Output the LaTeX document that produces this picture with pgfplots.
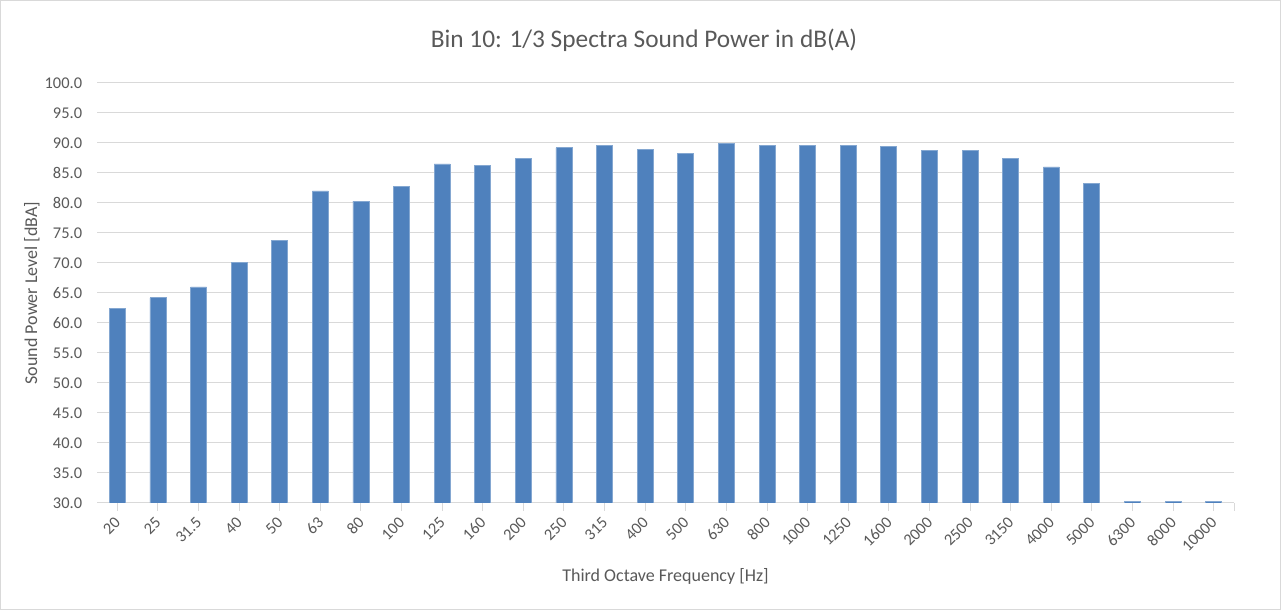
\documentclass[border=0pt]{standalone}
\usepackage{fontspec}
\setmainfont{Carlito}
\usepackage{pgfplots}
\pgfplotsset{compat=1.18}
\definecolor{barblue}{HTML}{4F81BD}
\definecolor{txt}{HTML}{595959}
\definecolor{gridc}{HTML}{D9D9D9}
\begin{document}
\begin{tikzpicture}
\path[use as bounding box] (0pt,0pt) rectangle (960.75pt,457.5pt);
\draw[gridc, line width=0.75pt] (0.6pt,0.6pt) rectangle (960.15pt,456.9pt);
\node[txt, font=\fontsize{19}{22}\selectfont] at (483pt,427.5pt) {Bin 10: 1/3 Spectra Sound Power in dB(A)};
\begin{axis}[
  at={(72.75pt,80.25pt)}, anchor=south west,
  scale only axis, width=852.75pt, height=315pt,
  ymin=30, ymax=100, ytick={30,35,...,100},
  xmin=-0.5, xmax=27.5,
  xtick={0,...,27},
  xticklabels={20,25,31.5,40,50,63,80,100,125,160,200,250,315,400,500,630,800,1000,1250,1600,2000,2500,3150,4000,5000,6300,8000,10000},
  extra x ticks={27.5}, extra x tick labels={},
  separate axis lines,
  axis x line*=bottom, axis y line*=left,
  x axis line style={gridc, line width=0.75pt, -},
  y axis line style={draw=none},
  ytick style={draw=none},
  xtick style={gridc, line width=0.75pt},
  xtick align=center, major tick length=6pt,
  ymajorgrids, major grid style={gridc, line width=0.75pt},
  /pgf/number format/assume math mode=true,
  yticklabel={\pgfmathprintnumber[fixed, fixed zerofill, precision=1]{\tick}},
  tick label style={txt, font=\fontsize{12.3}{14}\selectfont},
  yticklabel style={anchor=east, inner sep=0pt, xshift=-11pt},
  xticklabel style={xshift=0.3pt, yshift=-6.4pt, rotate=45, anchor=east, inner sep=0pt},
  xlabel={Third Octave Frequency [Hz]},
  ylabel={Sound Power Level [dBA]},
  label style={txt, font=\fontsize{13.5}{16}\selectfont},
  xlabel style={at={(axis description cs:0.5,-0.1738)}, anchor=center},
  ylabel style={at={(axis description cs:-0.0572,0.5)}, anchor=center},
  ybar, bar width=12pt,
  clip=true,
]
\addplot[fill=barblue, draw=barblue!70!white, line width=0.6pt] coordinates {
(0,62.4) (1,64.2) (2,66.0) (3,70.1) (4,73.8) (5,82.0) (6,80.3) (7,82.7)
(8,86.5) (9,86.2) (10,87.4) (11,89.2) (12,89.6) (13,88.9) (14,88.2) (15,89.9)
(16,89.6) (17,89.6) (18,89.6) (19,89.4) (20,88.7) (21,88.7) (22,87.4) (23,86.0)
(24,83.3) (25,30.3) (26,30.3) (27,30.3)
};
\end{axis}
\end{tikzpicture}
\end{document}
